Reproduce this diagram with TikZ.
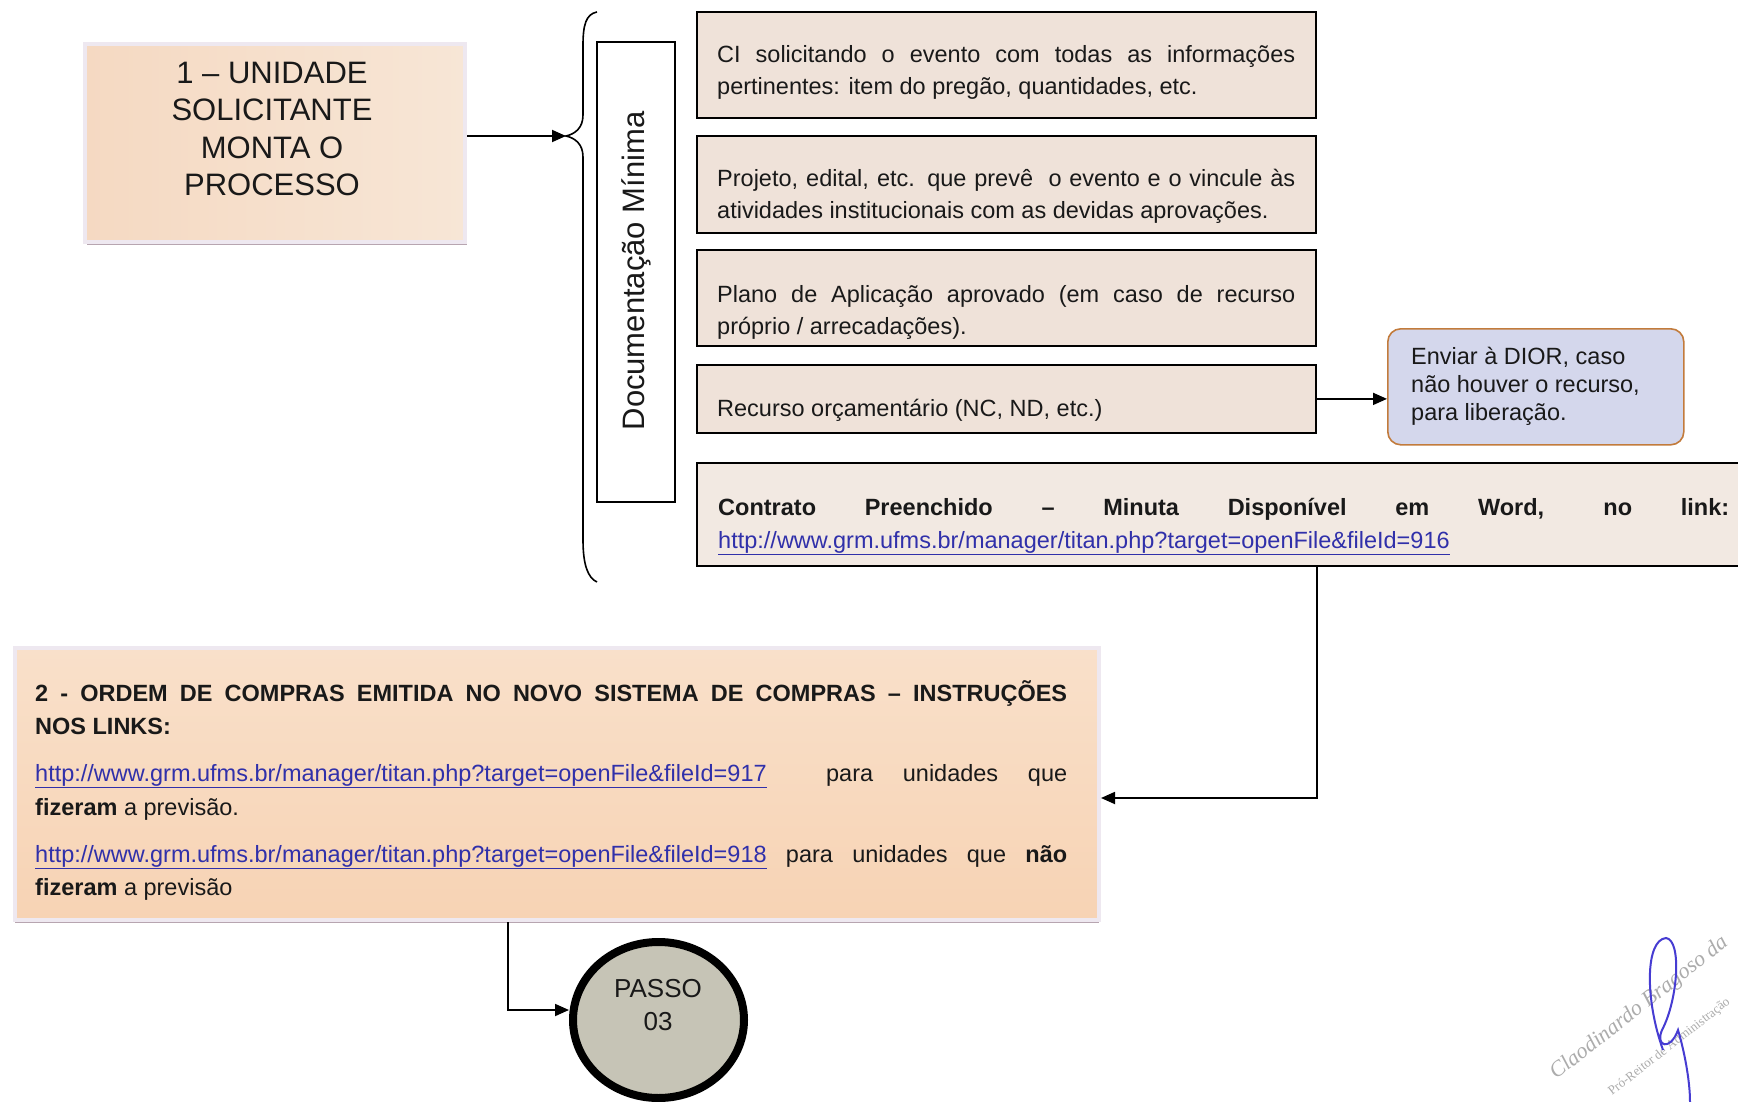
\documentclass[tikz,border=0pt]{standalone}
\usepackage{fontspec}
\setmainfont{Liberation Sans}
\newfontfamily\sigfont{Liberation Serif}
\usetikzlibrary{arrows.meta,shapes.geometric,calc}
\definecolor{docfill}{HTML}{EFE2D9}
\definecolor{efill}{HTML}{F2E9E2}
\definecolor{peachA}{HTML}{F5D9C2}
\definecolor{peachB}{HTML}{F7E6D6}
\definecolor{peachC}{HTML}{F7D3B4}
\definecolor{peachD}{HTML}{F9E0CA}
\definecolor{shadowc}{HTML}{B7A5B0}
\definecolor{framec}{HTML}{EEE8F0}
\definecolor{diorfill}{HTML}{D4D7EC}
\definecolor{diordraw}{HTML}{C27B3C}
\definecolor{passofill}{HTML}{C6C4B6}
\definecolor{linkc}{RGB}{48,48,170}
\definecolor{sigblue}{RGB}{70,60,210}
\newcommand\bodyfont{\fontsize{23.5}{33}\selectfont}
\newcommand\lnk[1]{\textcolor{linkc}{\underline{#1}}}
\tikzset{
  docbox/.style={draw=black, line width=1.8pt, fill=docfill, inner sep=0pt, anchor=north west},
  txt/.style={font=\bodyfont, inner sep=0pt, anchor=base west, text=black!90},
  conn/.style={line width=1.8pt, -{Triangle[length=14pt,width=12pt]}},
}
\begin{document}
\begin{tikzpicture}[x=1pt,y=-1pt]
\useasboundingbox[fill=white] (0,0) rectangle (1738,1102);

% ---------- box 1
\fill[shadowc] (87,47) rectangle (467,245);
\node[anchor=north west, inner sep=0pt, minimum width=380pt, minimum height=198pt,
      left color=peachA, right color=peachB, draw=framec, line width=4pt] (b1) at (83,42) {};
\node[align=center, font=\fontsize{31}{37.5}\selectfont, text=black!90] (t1) at (272,129)
  {1 – UNIDADE\\SOLICITANTE\\MONTA O\\PROCESSO};

% ---------- brace
\coordinate (bracetip) at (566,136);
\draw[line width=1.6pt] (597,12) .. controls (586,14) and (583,25) .. (583,45) -- (583,115)
   .. controls (583,128) and (575,134) .. (bracetip)
   .. controls (575,138) and (583,144) .. (583,157) -- (583,540)
   .. controls (583,565) and (588,578) .. (597,582);
\draw[conn] (b1.east |- bracetip) -- (bracetip);

% ---------- Documentação Mínima
\node[draw=black, line width=1.8pt, fill=white, anchor=north west, inner sep=0pt,
      minimum width=78pt, minimum height=460pt] (dm) at (596,41) {};
\node[rotate=90, font=\fontsize{31}{31}\selectfont, text=black!90] (tdm) at (636,271) {Documentação Mínima};

% ---------- right boxes
\node[docbox, minimum width=619pt, minimum height=106pt] (ba) at (696,11) {};
\node[txt] (ta1) at (717,63) {\makebox[578pt][s]{CI solicitando o evento com todas as informações}};
\node[txt] (ta2) at (717,95) {pertinentes: item do pregão, quantidades, etc.};

\node[docbox, minimum width=619pt, minimum height=97pt] (bb) at (696,135) {};
\node[txt] (tb1) at (717,187) {\makebox[578pt][s]{Projeto, edital, etc. que prevê \ o evento e o vincule às}};
\node[txt] (tb2) at (717,219) {atividades institucionais com as devidas aprovações.};

\node[docbox, minimum width=619pt, minimum height=96pt] (bc) at (696,249) {};
\node[txt] (tc1) at (717,302) {\makebox[578pt][s]{Plano de Aplicação aprovado (em caso de recurso}};
\node[txt] (tc2) at (717,334) {próprio / arrecadações).};

\node[docbox, minimum width=619pt, minimum height=68pt] (bd) at (696,364) {};
\node[txt] (td1) at (717,416) {Recurso orçamentário (NC, ND, etc.)};

\node[docbox, fill=efill, minimum width=1060pt, minimum height=103pt] (be) at (696,462) {};
\node[txt] (te1) at (718,515) {\makebox[1011pt][s]{\bfseries Contrato Preenchido – Minuta Disponível em Word, no link:}};
\node[txt] (te2) at (718,548) {\lnk{http://www.grm.ufms.br/manager/titan.php?target=openFile\&fileId=916}};

% ---------- DIOR
\node[draw=diordraw, line width=1.6pt, fill=diorfill, rounded corners=13pt, anchor=north west,
      inner sep=0pt, minimum width=296pt, minimum height=116pt] (dior) at (1387,328) {};
\node[txt, font=\fontsize{23.5}{28}\selectfont] (tdi1) at (1411,364) {Enviar à DIOR, caso};
\node[txt, font=\fontsize{23.5}{28}\selectfont] (tdi2) at (1411,392) {não houver o recurso,};
\node[txt, font=\fontsize{23.5}{28}\selectfont] (tdi3) at (1411,420) {para liberação.};
\draw[conn] (bd.east) -- (bd.east -| dior.west);

% ---------- box 2
\fill[shadowc] (15,650) rectangle (1099,923);
\node[anchor=north west, inner sep=0pt, minimum width=1084pt, minimum height=272pt,
      top color=peachD, bottom color=peachC, draw=framec, line width=4pt] (b2) at (13,646) {};
\node[txt] (t21) at (35,701) {\makebox[1032pt][s]{\bfseries 2 - ORDEM DE COMPRAS EMITIDA NO NOVO SISTEMA DE COMPRAS – INSTRUÇÕES}};
\node[txt] (t22) at (35,734.5) {\bfseries NOS LINKS:};
\node[txt] (t23) at (35,781) {\makebox[1032pt][s]{\lnk{http://www.grm.ufms.br/manager/titan.php?target=openFile\&fileId=917} \ para unidades que}};
\node[txt] (t24) at (35,815.5) {\textbf{fizeram} a previsão.};
\node[txt] (t25) at (35,862) {\makebox[1032pt][s]{\lnk{http://www.grm.ufms.br/manager/titan.php?target=openFile\&fileId=918} para unidades que \textbf{não}}};
\node[txt] (t26) at (35,895) {\textbf{fizeram} a previsão};

\draw[conn] (be.south -| bd.east) |- ([yshift=-14pt]b2.east);

% ---------- PASSO 03
\node[ellipse, draw=black, line width=8pt, fill=passofill, inner sep=0pt,
      minimum width=171pt, minimum height=156pt] (passo) at (658.5,1020) {};
\node[align=center, font=\fontsize{26}{33}\selectfont, text=black!90] (tp) at (658,1005) {PASSO\\03};
\draw[conn] ([xshift=-49pt]b2.south) |- ([yshift=10pt]passo.west);

% ---------- stamp / signature
\node[rotate=38, text=gray!65, font=\sigfont\itshape\fontsize{22}{22}\selectfont, anchor=base west, inner sep=0pt]
  (sig1) at (1556,1080) {Claodinardo Bragoso da};
\node[rotate=38, text=gray!65, font=\sigfont\fontsize{13}{13}\selectfont, anchor=base west, inner sep=0pt]
  (sig2) at (1612,1096) {Pró-Reitor de Administração};
\draw[sigblue, line width=2pt] (1663,1050) .. controls (1645,1000) and (1645,940) .. (1666,938)
   .. controls (1682,940) and (1678,1000) .. (1662,1030)
   .. controls (1655,1046) and (1670,1052) .. (1678,1030)
   .. controls (1684,1050) and (1690,1080) .. (1690,1102);
\end{tikzpicture}
\end{document}
